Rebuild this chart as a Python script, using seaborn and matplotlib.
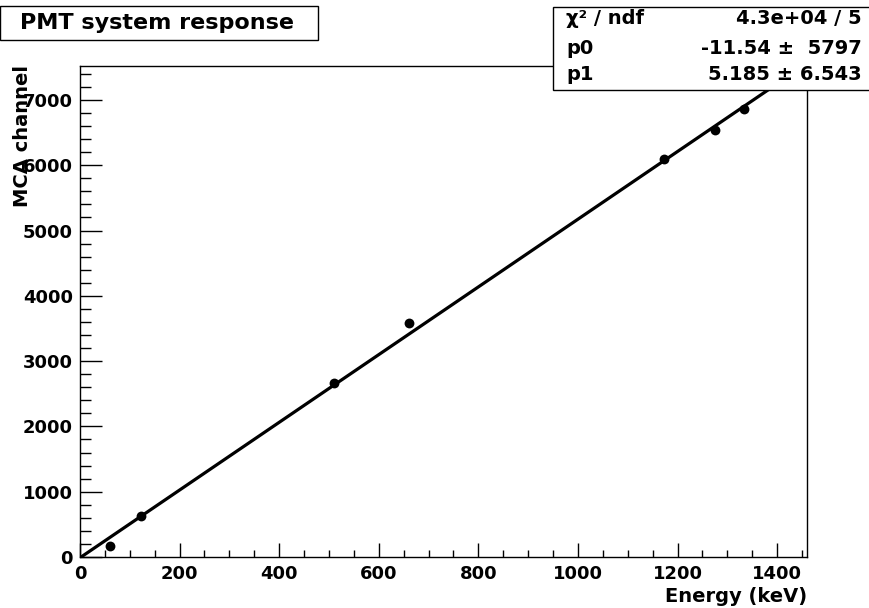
import numpy as np
import pandas as pd
import matplotlib
matplotlib.use("Agg")
import matplotlib.pyplot as plt
import seaborn as sns
from matplotlib.patches import Rectangle
from matplotlib.ticker import MultipleLocator

# measured peaks
energy = [59.5, 122.1, 511.0, 661.7, 1173.2, 1274.5, 1332.5]
channel = [175, 625, 2665, 3580, 6090, 6540, 6860]

# fit result (pol1)
p0, p0_err = -11.54, 5797
p1, p1_err = 5.185, 6.543
chi2_text = "4.3e+04 / 5"

x_range = [0, 1460]
y_range = [0, 7520]

sns.set_style("ticks")
plt.rcParams["font.family"] = ["DejaVu Sans"]
plt.rcParams["font.weight"] = "bold"
plt.rcParams["text.color"] = "black"

W, H = 870, 608
fig = plt.figure(figsize=(W / 100, H / 100), dpi=100)
fig.patch.set_facecolor("white")


def px(x, y):
	return x / W, 1 - y / H


ax = fig.add_axes([80 / W, (H - 557) / H, (807 - 80) / W, (557 - 66) / H])

df = pd.DataFrame({"energy": energy, "channel": channel})
fit_x = np.linspace(x_range[0], x_range[1], 2)
fit_df = pd.DataFrame({"energy": fit_x, "channel": p0 + p1 * fit_x})

sns.lineplot(data=fit_df, x="energy", y="channel", color="black", lw=2.3, ax=ax)
sns.scatterplot(data=df, x="energy", y="channel", color="black", s=50,
	edgecolor="black", linewidth=0, ax=ax, zorder=3)

ax.set_xlim(*x_range)
ax.set_ylim(*y_range)
ax.set_xlabel("")
ax.set_ylabel("")
ax.xaxis.set_major_locator(MultipleLocator(200))
ax.xaxis.set_minor_locator(MultipleLocator(50))
ax.yaxis.set_major_locator(MultipleLocator(1000))
ax.yaxis.set_minor_locator(MultipleLocator(200))
ax.tick_params(axis="both", which="both", direction="in", width=1, colors="black",
	labelsize=13)
ax.tick_params(axis="y", which="major", length=15.8, pad=5)
ax.tick_params(axis="y", which="minor", length=7.9)
ax.tick_params(axis="x", which="major", length=10, pad=5.5)
ax.tick_params(axis="x", which="minor", length=5)
for lab in ax.get_xticklabels() + ax.get_yticklabels():
	lab.set_fontweight("bold")
for s in ax.spines.values():
	s.set_visible(True)
	s.set_linewidth(1)
	s.set_color("black")

# axis titles, ROOT style (the y title sits over the top tick labels, as in ROOT)
fig.text(*px(807, 597), "Energy (keV)", ha="right", va="center", fontsize=14,
	fontweight="bold", color="black")
fig.text(*px(23, 65), "MCA channel", ha="center", va="top", rotation=90,
	fontsize=14, fontweight="bold", color="black")

# title box
fig.patches.append(Rectangle(px(0, 40), 318 / W, 34 / H, transform=fig.transFigure,
	facecolor="white", edgecolor="black", lw=1, zorder=5))
fig.text(*px(157, 23), "PMT system response", ha="center", va="center",
	fontsize=16, fontweight="bold", color="black", zorder=6)

# stats box
fig.patches.append(Rectangle(px(553, 90), 318 / W, 83 / H, transform=fig.transFigure,
	facecolor="white", edgecolor="black", lw=1, zorder=5))
rows = [
	("χ² / ndf", chi2_text, 19),
	("p0", f"{p0:.2f} ±  {p0_err:d}", 48),
	("p1", f"{p1:.3f} ± {p1_err:.3f}", 75),
]
for name, val, yy in rows:
	fig.text(*px(566, yy), name, ha="left", va="center", fontsize=14,
		fontweight="bold", color="black", zorder=6)
	fig.text(*px(862, yy), val, ha="right", va="center", fontsize=14,
		fontweight="bold", color="black", zorder=6)

fig.savefig("out.png", dpi=100, facecolor="white")
